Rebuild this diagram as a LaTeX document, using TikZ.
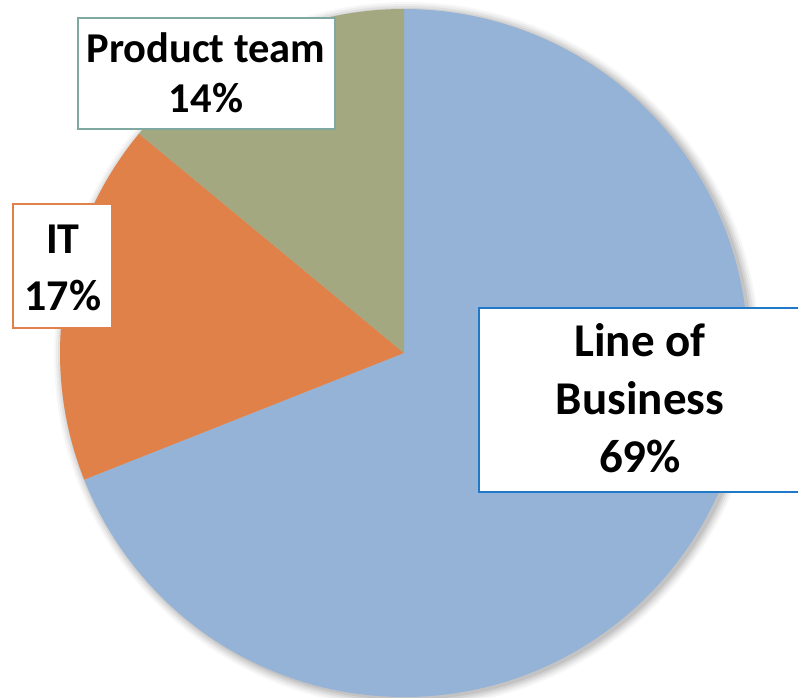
\documentclass[tikz,border=0pt]{standalone}
\usepackage{fontspec}
\setmainfont{Carlito}
\usetikzlibrary{calc}
\definecolor{lob}{HTML}{95B3D7}
\definecolor{itc}{HTML}{E0814A}
\definecolor{prod}{HTML}{A4A880}
\definecolor{lobb}{HTML}{1F78C8}
\definecolor{prodb}{HTML}{7FA9A0}
\tikzset{
  slice/.style={draw=none},
  labelbox/.style={fill=white, rectangle, inner sep=0pt},
  labeltext/.style={font=\fontsize{44}{50}\selectfont\bfseries, align=center, anchor=base, inner sep=0pt}
}
\begin{document}
\begin{tikzpicture}[x=1pt,y=-1pt]
\useasboundingbox (0,0) rectangle (798,698);
\fill[white] (0,0) rectangle (798,698);
\coordinate (c) at (404,353);
% soft shadow
\foreach \r/\o in {353/0.03,351/0.04,349/0.05,347/0.06,345/0.07}{
  \fill[black, opacity=\o] ($(c)+(3,2)$) circle[radius=\r];
}
% slices
\fill[lob, slice] (c) -- ++(-90:344) arc[start angle=-90, end angle=158.4, radius=344] -- cycle;
\fill[itc, slice] (c) -- ++(158.4:344) arc[start angle=158.4, end angle=219.6, radius=344] -- cycle;
\fill[prod, slice] (c) -- ++(219.6:344) arc[start angle=219.6, end angle=270, radius=344] -- cycle;
% label boxes
\node[labelbox, draw=prodb, line width=1.5pt, minimum width=257pt, minimum height=111pt] (pbox) at (206.5,73.5) {};
\node[labelbox, draw=itc, line width=2pt, minimum width=99pt, minimum height=124pt] (ibox) at (62.5,266) {};
\node[labelbox, draw=lobb, line width=2.5pt, minimum width=330pt, minimum height=184pt] (lbox) at (644,400) {};
% texts
\node[labeltext, font=\fontsize{42.5}{50}\selectfont\bfseries] (ptext) at (206,113) {Product team\\14\%};
\node[labeltext, font=\fontsize{44}{57}\selectfont\bfseries] (itext) at (63,310) {IT\\17\%};
\node[labeltext, font=\fontsize{47}{58}\selectfont\bfseries] (ltext) at (640,472) {Line of\\Business\\69\%};
\end{tikzpicture}
\end{document}
